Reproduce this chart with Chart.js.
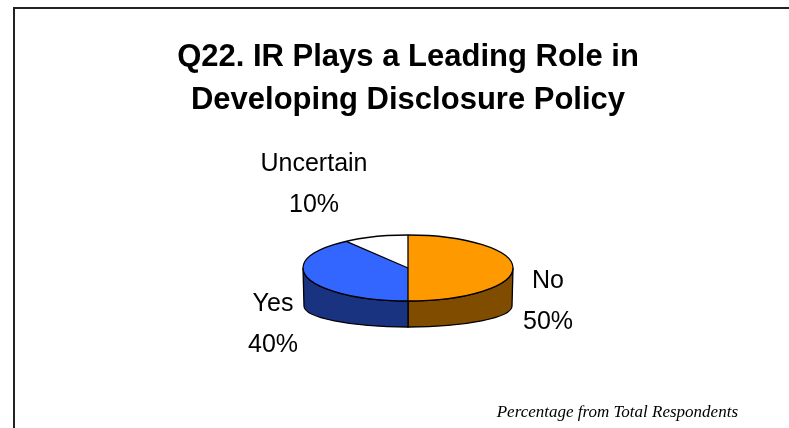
<!DOCTYPE html>
<html>
<head>
<meta charset="utf-8">
<script src="https://cdn.jsdelivr.net/npm/chart.js@4.4.1/dist/chart.umd.min.js"></script>
<style>
  html, body { margin: 0; padding: 0; background: #fff; }
  #pie { display: block; }
</style>
</head>
<body>
<canvas id="pie" width="789" height="428"></canvas>
<script>
// Survey answers
const categories = ["No", "Yes", "Uncertain"];
const shares = [50, 40, 10];
const titleLines = ["Q22. IR Plays a Leading Role in", "Developing Disclosure Policy"];
const footNote = "Percentage from Total Respondents";

const topColors = ["#FF9900", "#3366FF", "#FFFFFF"];
const sideColors = ["#804D00", "#1A3380", "#808080"];

// 3D look: squash the pie into an ellipse and hang a wall under the front half
const tilt = 33 / 105;      // vertical squash of the top face
const wallDrop = 38;        // distance from top face centre to bottom face centre
const bottomRx = 104;
const bottomRy = 21;

// label block centres, relative to the pie centre
const labelOffsets = [[140, 34], [-135, 57], [-94, -83]];
const labelLineGap = 41;

function ellipseGeom(meta) {
  const arc = meta.data[0];
  return { cx: arc.x, cy: arc.y, rx: arc.outerRadius, ry: arc.outerRadius * tilt };
}

// visible part of [a, b] on the front (0..PI), trying both wraps
function frontSpan(a, b) {
  const spans = [];
  for (const shift of [-2 * Math.PI, 0, 2 * Math.PI]) {
    const lo = Math.max(a + shift, 0);
    const hi = Math.min(b + shift, Math.PI);
    if (hi > lo + 1e-6) spans.push([lo, hi]);
  }
  return spans;
}

const pie3d = {
  id: "pie3d",
  beforeDraw(chart) {
    const ctx = chart.ctx;
    ctx.save();
    ctx.fillStyle = "#fff";
    ctx.fillRect(0, 0, chart.width, chart.height);
    // frame lines along top and left
    ctx.fillStyle = "#222";
    ctx.fillRect(13, 7, chart.width - 13, 2);
    ctx.fillRect(13, 7, 2, chart.height - 7);
    ctx.restore();
  },
  beforeDatasetsDraw(chart) {
    const meta = chart.getDatasetMeta(0);
    const { cx, cy, rx, ry } = ellipseGeom(meta);
    const cyb = cy + wallDrop;
    const ctx = chart.ctx;
    ctx.save();
    ctx.lineWidth = 1.3;
    ctx.strokeStyle = "#000";
    meta.data.forEach((arc, i) => {
      frontSpan(arc.startAngle, arc.endAngle).forEach(([a, b]) => {
        ctx.beginPath();
        ctx.ellipse(cx, cy, rx, ry, 0, a, b);
        ctx.lineTo(cx + bottomRx * Math.cos(b), cyb + bottomRy * Math.sin(b));
        ctx.ellipse(cx, cyb, bottomRx, bottomRy, 0, b, a, true);
        ctx.closePath();
        ctx.fillStyle = sideColors[i];
        ctx.fill();
        ctx.stroke();
      });
    });
    ctx.restore();
  },
  beforeDatasetDraw(chart) {
    const { cx, cy } = ellipseGeom(chart.getDatasetMeta(0));
    const ctx = chart.ctx;
    ctx.save();
    ctx.translate(cx, cy);
    ctx.scale(1, tilt);
    ctx.translate(-cx, -cy);
  },
  afterDatasetDraw(chart) {
    chart.ctx.restore();
  },
  afterDatasetsDraw(chart) {
    const meta = chart.getDatasetMeta(0);
    const { cx, cy, rx, ry } = ellipseGeom(meta);
    const ctx = chart.ctx;
    ctx.save();
    ctx.lineWidth = 1.3;
    ctx.strokeStyle = "#000";
    // rim of the top face and the slice edges
    ctx.beginPath();
    ctx.ellipse(cx, cy, rx, ry, 0, 0, 2 * Math.PI);
    ctx.stroke();
    meta.data.forEach((arc) => {
      ctx.beginPath();
      ctx.moveTo(cx, cy);
      ctx.lineTo(cx + rx * Math.cos(arc.startAngle), cy + ry * Math.sin(arc.startAngle));
      ctx.stroke();
    });

    // category and percentage labels
    ctx.fillStyle = "#000";
    ctx.font = "25px 'Liberation Sans', Arial, sans-serif";
    ctx.textAlign = "center";
    ctx.textBaseline = "middle";
    meta.data.forEach((arc, i) => {
      const x = cx + labelOffsets[i][0];
      const y = cy + labelOffsets[i][1];
      ctx.fillText(categories[i], x, y - labelLineGap / 2);
      ctx.fillText(shares[i] + "%", x, y + labelLineGap / 2);
    });

    // note in the lower right corner
    ctx.font = "italic 17px 'Liberation Serif', 'Times New Roman', serif";
    ctx.textAlign = "right";
    ctx.textBaseline = "alphabetic";
    ctx.fillText(footNote, 738, 417);
    ctx.restore();
  }
};

new Chart(document.getElementById("pie"), {
  type: "pie",
  data: {
    labels: categories,
    datasets: [{
      data: shares,
      backgroundColor: topColors,
      borderWidth: 0,
      hoverOffset: 0
    }]
  },
  options: {
    responsive: false,
    animation: false,
    radius: 105,
    layout: { padding: { top: 36, left: 27, right: 0, bottom: 14 } },
    events: [],
    plugins: {
      legend: { display: false },
      tooltip: { enabled: false },
      title: {
        display: true,
        text: titleLines,
        color: "#000",
        font: { family: "'Liberation Sans', Arial, sans-serif", size: 31, weight: "bold", lineHeight: "43px" },
        padding: { top: 0, bottom: 0 }
      }
    }
  },
  plugins: [pie3d]
});
</script>
</body>
</html>
